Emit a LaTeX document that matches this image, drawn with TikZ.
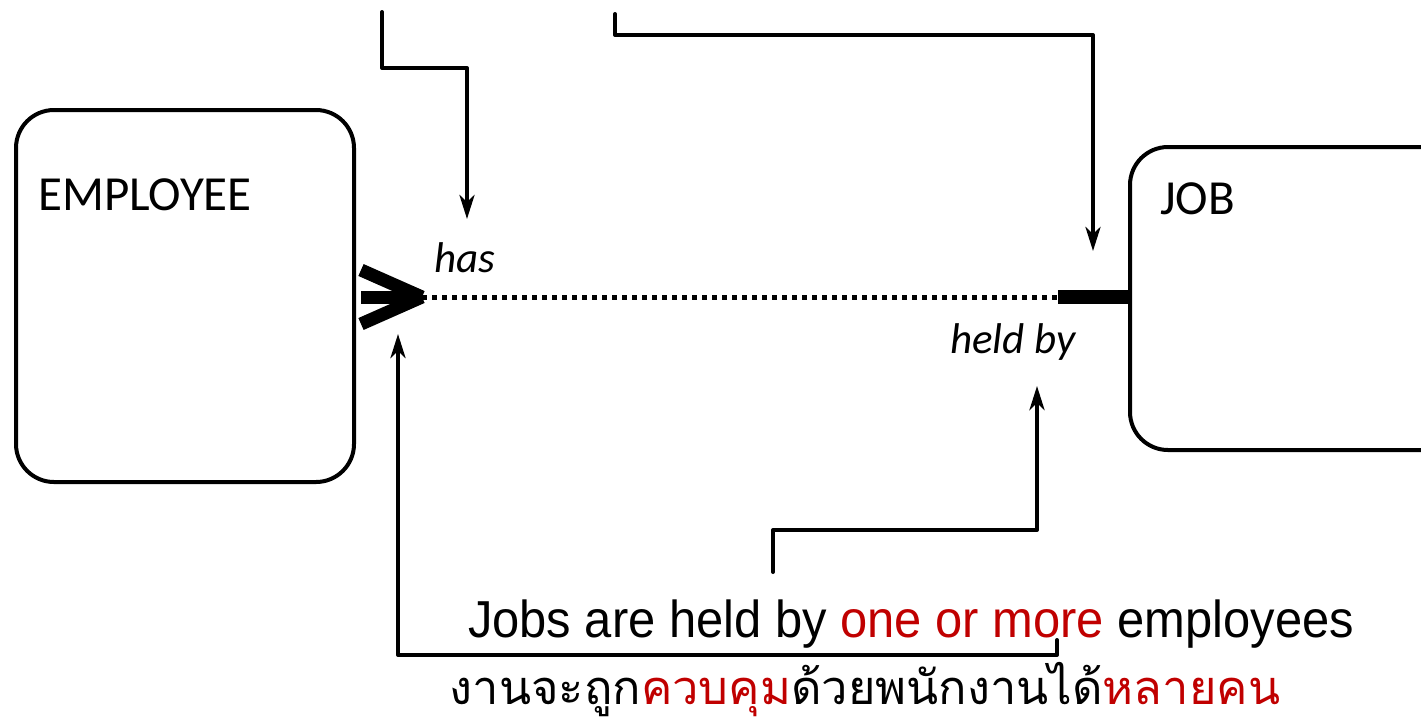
\documentclass[tikz,border=0pt]{standalone}
\usepackage{fontspec}
\setmainfont{Carlito}
\newfontfamily\captfont{Liberation Sans}
\newfontfamily\thaifont[Script=Thai]{Loma}
\usetikzlibrary{arrows.meta}
\definecolor{accent}{HTML}{C00000}
\tikzset{
  entity/.style={draw, line width=4pt, rounded corners=38pt, inner sep=0pt},
  etext/.style={font=\fontsize{49}{56}\selectfont, inner sep=0pt},
  role/.style={font=\itshape\fontsize{43}{50}\selectfont, inner sep=0pt},
  note/.style={line width=4pt, line join=round, line cap=round,
               -{Stealth[length=24pt,width=15pt,inset=7pt]}},
  relline/.style={line width=5pt, dash pattern=on 5pt off 5pt},
  crow/.style={line width=13pt},
}
\begin{document}
\begin{tikzpicture}[x=1pt,y=-1pt]
\useasboundingbox (0,0) rectangle (1421,724);

% entities
\node[entity, anchor=north west, minimum width=338pt, minimum height=372pt] (emp) at (14,108) {};
\node[etext, anchor=base west] (empt) at (38,210) {EMPLOYEE};
\node[entity, anchor=north west, minimum width=340pt, minimum height=303pt] (job) at (1128,145) {};
\node[etext, anchor=base west] (jobt) at (1160,214) {JOB};

% relationship
\coordinate (crow) at (422,297);
\coordinate (bar) at (1058,297);
\draw[relline] (crow) -- (bar);
\draw[crow] (crow) -- (361,270);
\draw[crow] (crow) -- (361,297);
\draw[crow] (crow) -- (361,324);
\draw[line width=14pt] (bar) -- (job.west |- bar);

\node[role, anchor=base] (has) at (465,272) {has};
\node[role, anchor=base] (heldby) at (1013,353) {held by};

% annotation pointers
\coordinate (a1) at (382,12);
\coordinate (a2) at (615,14);
\coordinate (a3) at (773,572);
\coordinate (a4) at (1057,640);
\draw[note] (a1) |- (467,68) -- (467,219);
\draw[note] (a2) |- (1093,35) -- (1093,251);
\draw[note] (a3) |- (1037,530) -- (1037,386);
\draw[note] (a4) |- (398,655) -- (398,334);

% captions
\node[inner sep=0pt, anchor=base] (cap) at (911,637)
  {\scalebox{0.94}[1]{\captfont\fontsize{52}{60}\selectfont Jobs are held by \textcolor{accent}{one or more} employees}};
\node[inner sep=0pt, anchor=base] (capth) at (865,704)
  {\thaifont\fontsize{47}{54}\selectfont งานจะถูก\textcolor{accent}{ควบคุม}ด้วยพนักงานได้\textcolor{accent}{หลายคน}};
\end{tikzpicture}
\end{document}
